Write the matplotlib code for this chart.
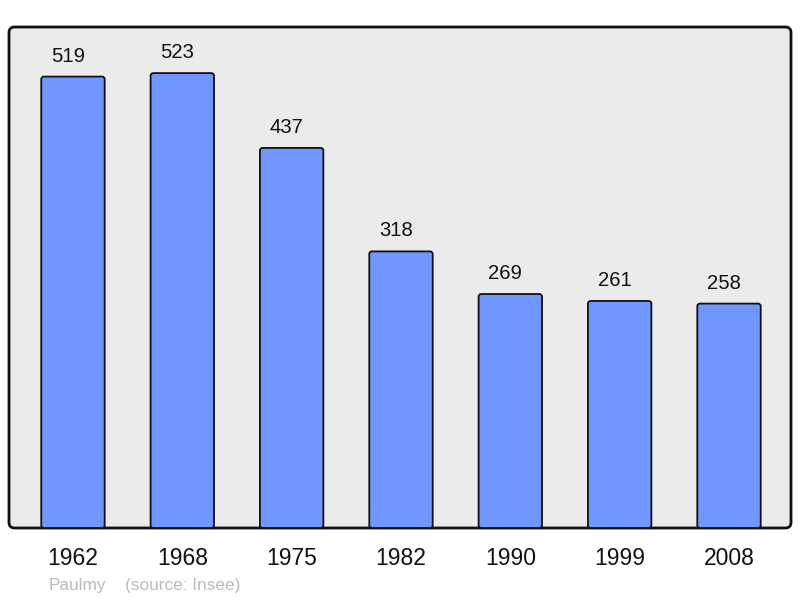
import matplotlib
matplotlib.use("Agg")
import matplotlib.pyplot as plt
from matplotlib.patches import FancyBboxPatch

years = ["1962", "1968", "1975", "1982", "1990", "1999", "2008"]
population = [519, 523, 437, 318, 269, 261, 258]

plt.rcParams['font.family'] = ['Liberation Sans', 'DejaVu Sans']

fig = plt.figure(figsize=(8, 5.98), dpi=100)
L, B, W, H = 9/800, 70/598, 782/800, 501/598

# rounded frame
frame = FancyBboxPatch((L, B), W, H, boxstyle="round,pad=0,rounding_size=0.007",
                       transform=fig.transFigure, facecolor="#ebebeb",
                       edgecolor="#111111", linewidth=2, mutation_aspect=800/598, zorder=-5)
fig.patches.append(frame)

ax = fig.add_axes([L, B, W, H])
ax.set_zorder(1)
ax.set_facecolor("none")
ax.patch.set_visible(False)
for s in ax.spines.values():
    s.set_visible(False)

x = list(range(len(years)))
bars = ax.bar(x, population, width=0.58, color="#7097ff")
ax.set_xlim(-0.585, 6.567)
ax.set_ylim(0, 576)

for rect, v in zip(bars, population):
    bx, by = rect.get_x(), rect.get_y()
    bw, bh = rect.get_width(), rect.get_height()
    rect.set_visible(False)
    p = FancyBboxPatch((bx, by), bw, bh, boxstyle="round,pad=0,rounding_size=0.025",
                       mutation_aspect=126, facecolor="#7097ff", edgecolor="#111111",
                       linewidth=1.3, zorder=2)
    ax.add_patch(p)
    ax.annotate(str(v), (bx + bw/2, by + bh), xytext=(-5, 15), textcoords="offset pixels",
                ha="center", va="baseline", fontsize=14.6, color="#111111")

ax.set_xticks(x)
ax.set_xticklabels(years, fontsize=16.5, color="#111111")
ax.tick_params(axis="x", length=0, pad=14)
ax.set_yticks([])

fig.text(49/800, 1 - 590/598, "Paulmy", fontsize=12.4, color="#bbbbbb", ha="left", va="baseline")
fig.text(125/800, 1 - 590/598, "(source: Insee)", fontsize=12.4, color="#bbbbbb", ha="left", va="baseline")

fig.savefig("out.png", dpi=100)
